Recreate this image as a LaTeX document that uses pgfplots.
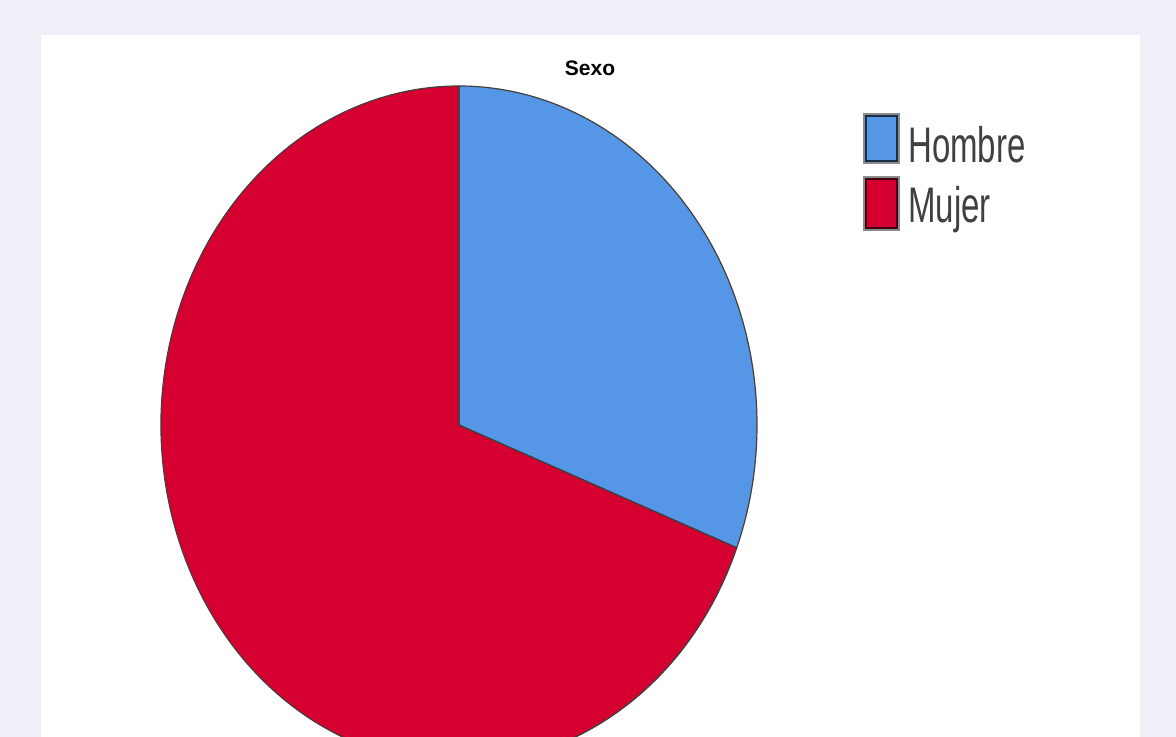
\documentclass[border=0pt]{standalone}
\usepackage{pgfplots}
\pgfplotsset{compat=1.18}
\usepackage{fontspec}
\setmainfont{Liberation Sans}
\definecolor{bgl}{HTML}{EFEFF8}
\definecolor{hcol}{HTML}{5596E6}
\definecolor{mcol}{HTML}{D5002F}
\begin{document}
\begin{tikzpicture}
% data (percent of cases)
\def\hombre{30.9}
\def\mujer{69.1}
\pgfmathsetmacro{\aend}{90-\hombre*3.6}
\pgfmathsetmacro{\bend}{\aend-\mujer*3.6}
\pgfmathsetmacro{\px}{459+298*cos(\aend)}
\pgfmathsetmacro{\py}{312+339*sin(\aend)}
\begin{axis}[
  scale only axis, width=588pt, height=368.5pt,
  xmin=0, xmax=1176, ymin=0, ymax=737,
  hide axis, clip=true]
\fill[bgl] (axis cs:0,0) rectangle (axis cs:1176,737);
\fill[white] (axis cs:41,0) rectangle (axis cs:1140,702);
\filldraw[fill=hcol, draw=black!75, line width=0.6pt]
  (axis cs:459,312) -- (axis cs:459,651)
  arc[start angle=90, end angle=\aend, x radius=149pt, y radius=169.5pt] -- cycle;
\filldraw[fill=mcol, draw=black!75, line width=0.6pt]
  (axis cs:459,312) -- (axis cs:\px,\py)
  arc[start angle=\aend, end angle=\bend, x radius=149pt, y radius=169.5pt] -- cycle;
\node[font=\bfseries\fontsize{10.5}{12}\selectfont, anchor=base] at (axis cs:590,661) {Sexo};
% legend
\filldraw[fill=black!45, draw=none] (axis cs:863,573) rectangle (axis cs:900,624);
\filldraw[fill=hcol, draw=hcol!30!black, line width=1pt] (axis cs:866,576) rectangle (axis cs:897,621);
\filldraw[fill=black!45, draw=none] (axis cs:863,506) rectangle (axis cs:900,561);
\filldraw[fill=mcol, draw=mcol!30!black, line width=1pt] (axis cs:866,509) rectangle (axis cs:897,558);
\node[anchor=base west, inner sep=0pt, xscale=0.66, text=black!75, font=\fontsize{25}{25}\selectfont] at (axis cs:908,574) {Hombre};
\node[anchor=base west, inner sep=0pt, xscale=0.66, text=black!75, font=\fontsize{25}{25}\selectfont] at (axis cs:908,514) {Mujer};
\end{axis}
\end{tikzpicture}
\end{document}
